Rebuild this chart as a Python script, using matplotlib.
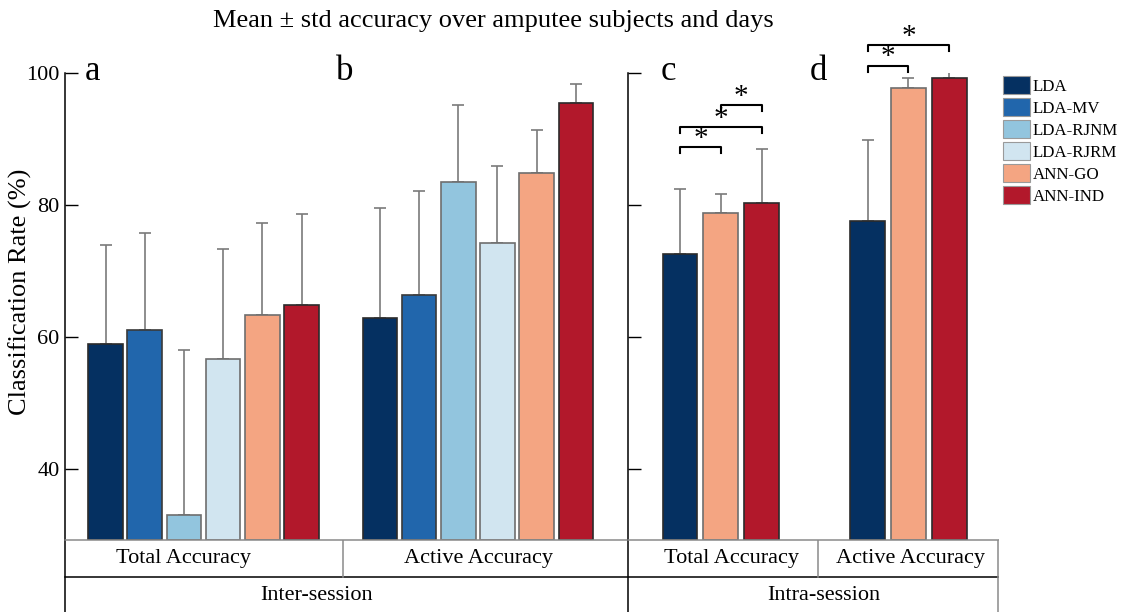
import numpy as np
import matplotlib.pyplot as plt
from matplotlib.patches import Patch

plt.rcParams['font.family'] = ['Liberation Serif', 'DejaVu Serif']

methods = ['LDA', 'LDA-MV', 'LDA-RJNM', 'LDA-RJRM', 'ANN-GO', 'ANN-IND']
colors = ['#053061', '#2166ac', '#92c5de', '#d1e5f0', '#f4a582', '#b2182b']
edges = ['#2b2b2b', '#3a3a3a', '#6e6e6e', '#6e6e6e', '#6e6e6e', '#2b2b2b']

# inter-session, all six classifiers
inter_total_mean = [58.9, 61.1, 33.0, 56.6, 63.3, 64.9]
inter_total_std = [15.1, 14.6, 25.0, 16.8, 14.0, 13.7]
inter_active_mean = [62.9, 66.4, 83.5, 74.2, 84.9, 95.4]
inter_active_std = [16.6, 15.7, 11.7, 11.7, 6.5, 3.0]

# intra-session, LDA / ANN-GO / ANN-IND only
intra_idx = [0, 4, 5]
intra_total_mean = [72.6, 78.8, 80.3]
intra_total_std = [9.8, 2.9, 8.2]
intra_active_mean = [77.5, 97.7, 99.2]
intra_active_std = [12.4, 1.6, 0.9]

# significance brackets: (bar i, bar j, height)
sig_c = [(0, 1, 88.8), (0, 2, 91.8), (1, 2, 95.1)]
sig_d = [(0, 1, 101.1), (0, 2, 104.2)]

W, H = 1132, 612
fig = plt.figure(figsize=(W / 100, H / 100), dpi=100)

ybot, ytop = 29.24, 100
ax_b, ax_t = 540, 73


def px_axes(x0, x1):
    return fig.add_axes([x0 / W, 1 - ax_b / H, (x1 - x0) / W, (ax_b - ax_t) / H])


def style(ax, labels=True):
    ax.set_ylim(ybot, ytop)
    ax.set_yticks([40, 60, 80, 100])
    ax.tick_params(axis='y', direction='in', length=9, width=1, labelsize=16,
                   labelleft=labels, pad=4)
    ax.tick_params(axis='x', bottom=False, labelbottom=False)
    for s in ['top', 'right']:
        ax.spines[s].set_visible(False)
    ax.spines['left'].set_linewidth(1.1)
    ax.spines['bottom'].set_color('#8a8a8a')
    ax.spines['bottom'].set_linewidth(1.1)


def draw_group(ax, xs, means, stds, cidx, width):
    for x, m, s, ci in zip(xs, means, stds, cidx):
        ax.bar(x, m - ybot, bottom=ybot, width=width, color=colors[ci],
               edgecolor=edges[ci], linewidth=1.2, zorder=2)
        ax.errorbar(x, m, yerr=[[0], [s]], fmt='none', ecolor='#7a7a7a',
                    elinewidth=1.2, capsize=4.5, capthick=1.2, zorder=1)


def bracket(ax, x1, x2, y):
    arm = 0.9
    ax.plot([x1, x1, x2, x2], [y - arm, y, y, y - arm], color='k', lw=1.5,
            clip_on=False, zorder=3)
    ax.text((x1 + x2) / 2, y - 0.7, '*', ha='center', va='bottom', fontsize=21,
            clip_on=False)


# inter-session panels (a, b)
ax1 = px_axes(65, 628)
sp1, a0 = 39.2, 105.5
ax1.set_xlim((65 - a0) / sp1, (628 - a0) / sp1)
xa = np.arange(6)
xb = np.arange(6) + 7
draw_group(ax1, xa, inter_total_mean, inter_total_std, range(6), 0.88)
draw_group(ax1, xb, inter_active_mean, inter_active_std, range(6), 0.88)
style(ax1)

# intra-session panels (c, d)
ax2 = px_axes(628, 998)
sp2, c0 = 40.8, 680
ax2.set_xlim((628 - c0) / sp2, (998 - c0) / sp2)
xc = np.arange(3)
xd = np.arange(3) + 4.6
draw_group(ax2, xc, intra_total_mean, intra_total_std, intra_idx, 0.85)
draw_group(ax2, xd, intra_active_mean, intra_active_std, intra_idx, 0.85)
style(ax2, labels=False)
for i, j, y in sig_c:
    bracket(ax2, xc[i], xc[j], y)
for i, j, y in sig_d:
    bracket(ax2, xd[i], xd[j], y)

# panel letters, y label and title
for x, t in [(92, 'a'), (345, 'b'), (668, 'c'), (818, 'd')]:
    fig.text(x / W, 1 - 72 / H, t, fontsize=25, ha='center', va='center')
fig.text(20 / W, 1 - 292 / H, 'Classification Rate (%)', fontsize=19,
         rotation=90, ha='center', va='center')
fig.text(493 / W, 1 - 21 / H, 'Mean \u00b1 std accuracy over amputee subjects and days',
         fontsize=19, ha='center', va='center')

# category table under the bars
tab = fig.add_axes([0, 0, 1, 1], zorder=-1)
tab.set_xlim(0, W)
tab.set_ylim(H, 0)
tab.axis('off')
tab.plot([65, 998], [577, 577], color='k', lw=1.1)
tab.plot([65, 65], [540, 612], color='k', lw=1.1)
tab.plot([628, 628], [540, 612], color='k', lw=1.1)
tab.plot([343, 343], [540, 577], color='#8a8a8a', lw=1.1)
tab.plot([818, 818], [540, 577], color='#8a8a8a', lw=1.1)
tab.plot([998, 998], [540, 612], color='#8a8a8a', lw=1.1)
for x, y, t in [(183, 559, 'Total Accuracy'), (478, 559, 'Active Accuracy'),
                (731, 558, 'Total Accuracy'), (910, 558, 'Active Accuracy'),
                (317, 596, 'Inter-session'), (824, 596, 'Intra-session')]:
    tab.text(x, y, t, fontsize=16, ha='center', va='center')

handles = [Patch(facecolor=c, edgecolor='#9a9a9a', linewidth=0.8) for c in colors]
fig.legend(handles, methods, loc='upper left', bbox_to_anchor=(1003 / W, 1 - 76 / H),
           frameon=False, fontsize=12.2, handlelength=1.6, handleheight=1.25,
           handletextpad=0.15, labelspacing=0.2, borderpad=0, borderaxespad=0)

fig.savefig('out.png', dpi=100)
